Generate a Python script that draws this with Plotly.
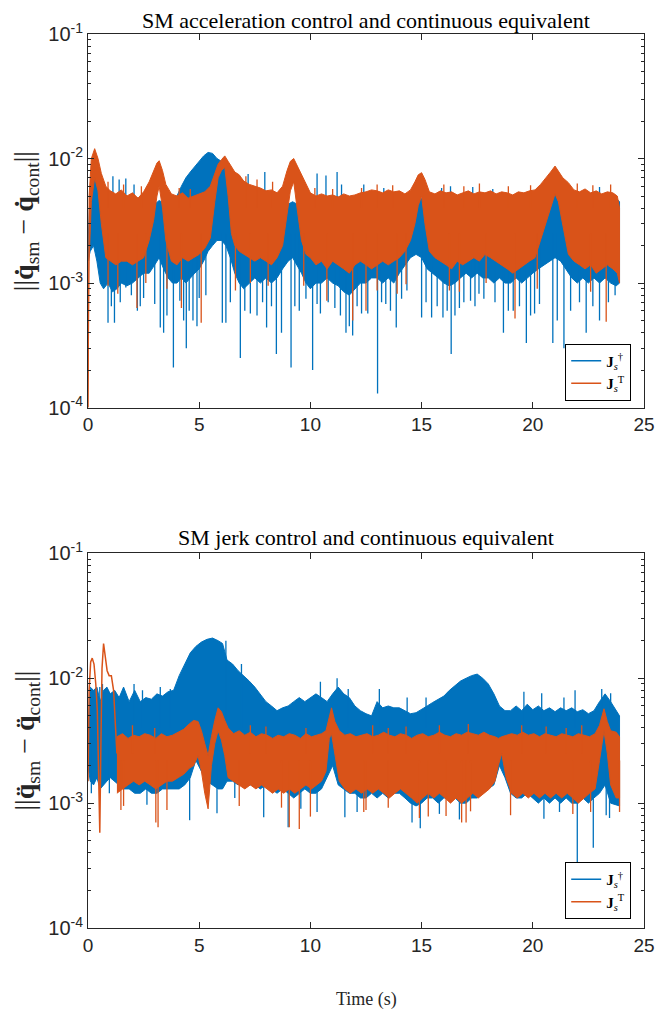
import plotly.graph_objects as go

BLUE = "#0072BD"
ORANGE = "#D95319"

# ---------------- top panel: SM acceleration control ----------------
# J_s^dagger (blue) dense band envelope
b1_t = [
 0.00, 0.10, 0.25, 0.40, 0.55, 0.70, 0.90, 1.10, 1.30, 1.50,
 1.75, 2.00, 2.25, 2.50, 2.75, 3.00, 3.20, 3.40, 3.60, 3.80,
 4.00, 4.20, 4.40, 4.60, 4.80, 5.00, 5.20, 5.40, 5.60, 5.80,
 6.00, 6.20, 6.40, 6.60, 6.80, 7.00, 7.25, 7.50, 7.75, 8.00,
 8.25, 8.50, 8.75, 9.00, 9.20, 9.40, 9.60, 9.80, 10.00, 10.25,
 10.50, 10.75, 11.00, 11.25, 11.50, 11.75, 12.00, 12.25, 12.50, 12.75,
 13.00, 13.25, 13.50, 13.75, 14.00, 14.25, 14.50, 14.75, 15.00, 15.25,
 15.50, 15.75, 16.00, 16.25, 16.50, 16.75, 17.00, 17.25, 17.50, 17.75,
 18.00, 18.25, 18.50, 18.75, 19.00, 19.25, 19.50, 19.75, 20.00, 20.25,
 20.50, 20.75, 21.00, 21.25, 21.50, 21.75, 22.00, 22.25, 22.50, 22.75,
 23.00, 23.25, 23.50, 23.75, 23.90]
b1_hi = [
 2.0e-3, 6.0e-3, 7.5e-3, 6.5e-3, 5.5e-3, 5.0e-3, 5.2e-3, 5.0e-3, 4.8e-3, 5.0e-3,
 4.8e-3, 5.0e-3, 4.8e-3, 5.0e-3, 4.5e-3, 4.3e-3, 4.6e-3, 4.4e-3, 4.6e-3, 4.8e-3,
 5.0e-3, 6.0e-3, 7.0e-3, 7.8e-3, 8.6e-3, 9.5e-3, 1.05e-2, 1.12e-2, 1.1e-2, 1.0e-2,
 9.5e-3, 8.5e-3, 7.5e-3, 6.0e-3, 5.2e-3, 5.0e-3, 4.9e-3, 5.0e-3, 4.8e-3, 5.0e-3,
 4.8e-3, 4.7e-3, 4.5e-3, 4.3e-3, 4.5e-3, 4.3e-3, 4.6e-3, 4.8e-3, 5.0e-3, 4.9e-3,
 5.0e-3, 4.8e-3, 5.0e-3, 4.9e-3, 5.0e-3, 4.8e-3, 4.9e-3, 5.0e-3, 5.0e-3, 5.1e-3,
 5.0e-3, 5.2e-3, 5.0e-3, 5.1e-3, 4.9e-3, 4.7e-3, 4.5e-3, 4.6e-3, 4.8e-3, 4.5e-3,
 4.8e-3, 5.0e-3, 4.9e-3, 5.0e-3, 4.8e-3, 5.0e-3, 4.9e-3, 5.0e-3, 4.8e-3, 5.0e-3,
 4.9e-3, 5.0e-3, 4.8e-3, 4.9e-3, 4.7e-3, 4.8e-3, 4.9e-3, 4.8e-3, 4.7e-3, 4.6e-3,
 4.2e-3, 4.6e-3, 5.4e-3, 4.8e-3, 4.4e-3, 4.8e-3, 5.0e-3, 4.9e-3, 5.0e-3, 4.8e-3,
 5.0e-3, 4.9e-3, 5.0e-3, 4.8e-3, 4.5e-3]
b1_lo = [
 1.5e-3, 1.8e-3, 2.0e-3, 1.5e-3, 1.0e-3, 9.0e-4, 1.0e-3, 8.5e-4, 9.0e-4, 1.0e-3,
 9.5e-4, 1.0e-3, 1.1e-3, 1.2e-3, 1.2e-3, 1.4e-3, 1.6e-3, 1.3e-3, 1.1e-3, 1.0e-3,
 1.0e-3, 1.1e-3, 1.0e-3, 1.1e-3, 1.2e-3, 1.3e-3, 1.5e-3, 1.8e-3, 2.0e-3, 2.2e-3,
 2.2e-3, 2.0e-3, 1.6e-3, 1.2e-3, 1.0e-3, 9.0e-4, 1.0e-3, 1.1e-3, 1.0e-3, 1.1e-3,
 1.0e-3, 1.1e-3, 1.3e-3, 1.5e-3, 1.6e-3, 1.4e-3, 1.2e-3, 1.0e-3, 9.0e-4, 1.0e-3,
 1.0e-3, 1.1e-3, 1.0e-3, 9.5e-4, 8.5e-4, 8.0e-4, 9.0e-4, 1.0e-3, 1.0e-3, 1.1e-3,
 1.1e-3, 1.0e-3, 1.1e-3, 1.0e-3, 1.2e-3, 1.4e-3, 1.6e-3, 1.7e-3, 1.6e-3, 1.3e-3,
 1.2e-3, 1.1e-3, 1.0e-3, 9.5e-4, 1.0e-3, 1.1e-3, 1.2e-3, 1.1e-3, 1.2e-3, 1.1e-3,
 1.1e-3, 1.0e-3, 1.1e-3, 1.0e-3, 1.0e-3, 1.1e-3, 1.0e-3, 1.1e-3, 1.2e-3, 1.3e-3,
 1.4e-3, 1.5e-3, 1.6e-3, 1.5e-3, 1.3e-3, 1.1e-3, 1.0e-3, 1.1e-3, 1.0e-3, 1.1e-3,
 1.0e-3, 1.1e-3, 1.0e-3, 9.5e-4, 1.0e-3]
# blue isolated spikes (downward and upward tips)
b1_dn_t = [0.90, 1.19, 1.70, 2.22, 2.50, 3.00, 3.25, 3.40, 3.84, 4.13,
           4.42, 4.72, 5.00, 6.04, 6.20, 6.85, 7.30, 8.03, 8.47, 8.70,
           9.13, 9.50, 10.10, 10.45, 11.10, 11.60, 11.90, 12.30, 12.58, 13.02,
           13.39, 13.86, 14.34, 15.00, 15.45, 15.96, 16.33, 16.70, 17.20, 17.58,
           18.68, 19.12, 19.71, 20.08, 20.90, 21.40, 22.40, 23.70,
           1.05, 1.45, 1.95, 2.35, 3.55, 4.30, 4.55, 4.90, 5.30, 6.40,
           7.05, 7.60, 7.85, 8.25, 9.30, 9.80, 10.30, 10.80, 11.35, 11.75,
           12.10, 13.20, 13.60, 14.10, 15.20, 15.70, 16.15, 16.50, 16.90, 17.40,
           17.80, 18.30, 18.90, 19.40, 19.90, 20.30, 21.10, 21.70, 22.10, 22.70,
           23.00, 23.40]
b1_dn_v = [4.8e-4, 4.8e-4, 9.2e-4, 6.0e-4, 7.6e-4, 6.8e-4, 4.4e-4, 4.0e-4, 2.1e-4, 7.2e-4,
           3.0e-4, 5.0e-4, 7.6e-4, 4.8e-4, 4.8e-4, 2.5e-4, 5.7e-4, 4.4e-4, 2.7e-4, 4.0e-4,
           2.1e-4, 6.0e-4, 2.0e-4, 5.7e-4, 6.3e-4, 4.0e-4, 3.8e-4, 5.7e-4, 5.7e-4, 1.3e-4,
           6.8e-4, 4.4e-4, 8.7e-4, 5.3e-4, 5.3e-4, 5.3e-4, 2.7e-4, 6.3e-4, 7.2e-4, 8.2e-4,
           4.0e-4, 6.0e-4, 3.3e-4, 5.7e-4, 3.3e-4, 3.0e-4, 4.0e-4, 8.0e-4,
           6.5e-4, 7.0e-4, 8.0e-4, 6.5e-4, 5.5e-4, 5.0e-4, 6.0e-4, 4.5e-4, 8.0e-4, 7.0e-4,
           6.0e-4, 5.5e-4, 7.0e-4, 6.5e-4, 6.5e-4, 7.5e-4, 6.8e-4, 7.0e-4, 5.5e-4, 4.5e-4,
           6.5e-4, 7.0e-4, 6.0e-4, 7.5e-4, 7.0e-4, 6.5e-4, 6.0e-4, 5.5e-4, 7.0e-4, 6.5e-4,
           7.5e-4, 7.0e-4, 6.0e-4, 6.5e-4, 5.5e-4, 6.8e-4, 5.0e-4, 6.0e-4, 7.0e-4, 6.5e-4,
           5.0e-4, 7.0e-4]
b1_up_t = [0.60, 1.12, 1.40, 1.70, 2.07, 4.28, 6.60, 7.20, 7.95, 10.30,
           10.70, 11.20, 11.40, 12.40, 13.30, 15.90, 16.30, 17.30, 18.20, 23.00]
b1_up_v = [7.5e-3, 7.2e-3, 6.8e-3, 6.9e-3, 6.2e-3, 6.2e-3, 6.0e-3, 7.5e-3, 7.8e-3, 7.6e-3,
           7.3e-3, 7.8e-3, 6.2e-3, 6.2e-3, 5.8e-3, 5.8e-3, 6.0e-3, 5.9e-3, 5.7e-3, 5.9e-3]

# J_s^T (orange) dense band envelope
o1_t = [
 0.00, 0.05, 0.15, 0.30, 0.45, 0.60, 0.80, 1.00, 1.25, 1.50,
 1.75, 2.00, 2.25, 2.50, 2.75, 2.95, 3.10, 3.20, 3.35, 3.50,
 3.75, 4.00, 4.25, 4.50, 4.75, 5.00, 5.25, 5.50, 5.70, 5.85,
 6.00, 6.15, 6.30, 6.45, 6.60, 6.80, 7.00, 7.25, 7.50, 7.75,
 8.00, 8.25, 8.50, 8.75, 8.95, 9.10, 9.25, 9.40, 9.60, 9.80,
 10.00, 10.25, 10.50, 10.75, 11.00, 11.25, 11.50, 11.75, 12.00, 12.25,
 12.50, 12.75, 13.00, 13.25, 13.50, 13.75, 14.00, 14.25, 14.50, 14.70,
 14.85, 15.00, 15.15, 15.35, 15.60, 15.85, 16.10, 16.35, 16.60, 16.85,
 17.10, 17.35, 17.60, 17.85, 18.10, 18.35, 18.60, 18.85, 19.10, 19.35,
 19.60, 19.85, 20.10, 20.35, 20.60, 20.80, 21.00, 21.15, 21.35, 21.60,
 21.85, 22.10, 22.35, 22.60, 22.85, 23.10, 23.35, 23.60, 23.80, 23.90]
o1_hi = [
 1.0e-4, 5.0e-3, 1.0e-2, 1.2e-2, 1.0e-2, 7.6e-3, 6.0e-3, 5.5e-3, 5.2e-3, 5.6e-3,
 5.0e-3, 5.3e-3, 4.8e-3, 5.4e-3, 6.5e-3, 8.0e-3, 9.2e-3, 9.6e-3, 8.0e-3, 6.2e-3,
 5.2e-3, 5.0e-3, 5.3e-3, 4.8e-3, 5.0e-3, 5.2e-3, 5.4e-3, 6.0e-3, 7.5e-3, 9.0e-3,
 9.8e-3, 1.05e-2, 9.5e-3, 8.5e-3, 7.8e-3, 7.4e-3, 6.6e-3, 6.2e-3, 6.0e-3, 5.8e-3,
 5.5e-3, 5.6e-3, 5.3e-3, 6.0e-3, 8.0e-3, 9.5e-3, 1.0e-2, 8.8e-3, 7.5e-3, 6.2e-3,
 5.3e-3, 5.0e-3, 5.2e-3, 5.0e-3, 5.1e-3, 4.9e-3, 5.2e-3, 5.0e-3, 5.1e-3, 5.3e-3,
 5.4e-3, 5.6e-3, 5.5e-3, 5.3e-3, 5.6e-3, 5.4e-3, 5.5e-3, 5.2e-3, 5.6e-3, 6.5e-3,
 7.4e-3, 7.7e-3, 6.8e-3, 5.4e-3, 5.2e-3, 5.5e-3, 5.3e-3, 5.4e-3, 5.1e-3, 5.3e-3,
 5.5e-3, 5.2e-3, 5.4e-3, 5.3e-3, 5.5e-3, 5.2e-3, 5.4e-3, 5.3e-3, 5.1e-3, 5.4e-3,
 5.3e-3, 5.5e-3, 5.6e-3, 6.2e-3, 7.0e-3, 7.8e-3, 8.7e-3, 8.0e-3, 7.0e-3, 6.4e-3,
 5.6e-3, 5.4e-3, 5.7e-3, 5.3e-3, 5.5e-3, 5.2e-3, 5.4e-3, 5.3e-3, 5.0e-3, 4.0e-3]
o1_lo = [
 1.0e-4, 1.5e-3, 4.5e-3, 7.0e-3, 5.5e-3, 3.0e-3, 1.6e-3, 1.5e-3, 1.4e-3, 1.5e-3,
 1.5e-3, 1.4e-3, 1.5e-3, 1.6e-3, 2.2e-3, 3.2e-3, 5.0e-3, 6.0e-3, 4.0e-3, 2.2e-3,
 1.5e-3, 1.4e-3, 1.6e-3, 1.5e-3, 1.6e-3, 1.7e-3, 1.9e-3, 2.3e-3, 4.5e-3, 7.0e-3,
 8.0e-3, 8.5e-3, 5.0e-3, 2.5e-3, 2.0e-3, 1.8e-3, 1.7e-3, 1.6e-3, 1.5e-3, 1.6e-3,
 1.5e-3, 1.4e-3, 1.6e-3, 2.0e-3, 3.5e-3, 5.5e-3, 6.5e-3, 4.0e-3, 2.2e-3, 1.7e-3,
 1.6e-3, 1.4e-3, 1.5e-3, 1.3e-3, 1.5e-3, 1.4e-3, 1.3e-3, 1.2e-3, 1.4e-3, 1.5e-3,
 1.4e-3, 1.3e-3, 1.4e-3, 1.5e-3, 1.4e-3, 1.5e-3, 1.6e-3, 1.8e-3, 2.2e-3, 3.0e-3,
 4.2e-3, 5.0e-3, 3.0e-3, 1.8e-3, 1.6e-3, 1.5e-3, 1.4e-3, 1.3e-3, 1.5e-3, 1.4e-3,
 1.5e-3, 1.6e-3, 1.5e-3, 1.7e-3, 1.6e-3, 1.5e-3, 1.4e-3, 1.3e-3, 1.2e-3, 1.3e-3,
 1.4e-3, 1.5e-3, 1.6e-3, 2.2e-3, 3.0e-3, 4.0e-3, 5.2e-3, 4.5e-3, 3.0e-3, 1.7e-3,
 1.5e-3, 1.4e-3, 1.3e-3, 1.4e-3, 1.2e-3, 1.3e-3, 1.4e-3, 1.3e-3, 1.2e-3, 1.0e-3]
o1_dn_t = [0.90, 1.34, 2.20, 2.60, 3.55, 4.20, 5.09, 6.63, 7.30, 8.10,
           9.70, 10.74, 11.90, 12.50, 13.00, 13.90, 14.30, 16.25, 16.70, 17.90,
           19.20, 20.20, 22.60, 23.30]
o1_dn_v = [9.5e-4, 8.2e-4, 6.3e-4, 1.0e-3, 9.0e-4, 6.3e-4, 4.8e-4, 8.7e-4, 1.0e-3, 9.5e-4,
           9.5e-4, 7.2e-4, 5.0e-4, 6.0e-4, 8.7e-4, 8.2e-4, 9.8e-4, 8.7e-4, 8.5e-4, 1.0e-3,
           5.2e-4, 9.0e-4, 8.5e-4, 4.9e-4]
o1_up_t = [0.90, 1.60, 2.40, 4.10, 4.60, 7.10, 7.60, 8.30, 10.20, 11.00,
           12.30, 13.00, 13.70, 16.00, 16.90, 17.60, 18.90, 19.90, 22.00, 22.70, 23.50]
o1_up_v = [6.5e-3, 6.2e-3, 6.0e-3, 5.8e-3, 5.7e-3, 7.2e-3, 6.8e-3, 6.5e-3, 5.8e-3, 5.7e-3,
           5.8e-3, 6.2e-3, 6.1e-3, 6.2e-3, 6.0e-3, 6.3e-3, 6.0e-3, 6.1e-3, 6.3e-3, 6.1e-3, 6.2e-3]

# ---------------- bottom panel: SM jerk control ----------------
b2_t = [
 0.00, 0.10, 0.25, 0.40, 0.55, 0.70, 0.85, 1.00, 1.20, 1.40,
 1.60, 1.85, 2.10, 2.35, 2.60, 2.85, 3.10, 3.35, 3.60, 3.85,
 4.10, 4.35, 4.60, 4.85, 5.10, 5.35, 5.60, 5.85, 6.05, 6.25,
 6.50, 6.75, 7.00, 7.25, 7.50, 7.75, 8.00, 8.25, 8.50, 8.75,
 9.00, 9.25, 9.50, 9.75, 10.00, 10.25, 10.50, 10.75, 11.00, 11.25,
 11.50, 11.75, 12.00, 12.25, 12.50, 12.75, 13.00, 13.25, 13.50, 13.75,
 14.00, 14.25, 14.50, 14.75, 15.00, 15.25, 15.50, 15.75, 16.00, 16.25,
 16.50, 16.75, 17.00, 17.25, 17.50, 17.75, 18.00, 18.25, 18.50, 18.75,
 19.00, 19.25, 19.50, 19.75, 20.00, 20.25, 20.50, 20.75, 21.00, 21.25,
 21.50, 21.75, 22.00, 22.25, 22.50, 22.75, 23.00, 23.25, 23.50, 23.90]
b2_hi = [
 3.0e-3, 8.5e-3, 8.0e-3, 8.5e-3, 6.5e-3, 8.0e-3, 8.5e-3, 7.5e-3, 8.0e-3, 7.0e-3,
 8.5e-3, 6.5e-3, 8.0e-3, 6.5e-3, 7.0e-3, 6.8e-3, 7.5e-3, 7.2e-3, 7.8e-3, 8.0e-3,
 1.05e-2, 1.3e-2, 1.6e-2, 1.8e-2, 1.95e-2, 2.05e-2, 2.1e-2, 2.0e-2, 1.9e-2, 1.4e-2,
 1.3e-2, 1.15e-2, 1.05e-2, 9.5e-3, 8.5e-3, 7.5e-3, 6.5e-3, 6.0e-3, 5.5e-3, 5.8e-3,
 6.0e-3, 6.5e-3, 7.0e-3, 6.5e-3, 7.0e-3, 7.5e-3, 7.0e-3, 6.5e-3, 7.5e-3, 8.5e-3,
 7.5e-3, 7.0e-3, 6.0e-3, 5.5e-3, 5.2e-3, 5.0e-3, 6.5e-3, 5.8e-3, 6.0e-3, 5.8e-3,
 5.8e-3, 5.5e-3, 5.2e-3, 5.3e-3, 5.6e-3, 6.0e-3, 6.4e-3, 6.8e-3, 7.2e-3, 8.0e-3,
 8.8e-3, 9.5e-3, 1.0e-2, 1.05e-2, 1.08e-2, 1.0e-2, 9.0e-3, 7.5e-3, 6.0e-3, 5.5e-3,
 5.5e-3, 6.0e-3, 5.5e-3, 6.2e-3, 5.6e-3, 6.0e-3, 5.5e-3, 5.8e-3, 5.4e-3, 5.8e-3,
 5.5e-3, 5.8e-3, 5.4e-3, 5.6e-3, 5.2e-3, 5.5e-3, 6.5e-3, 7.5e-3, 6.5e-3, 5.0e-3]
b2_lo = [
 2.0e-3, 1.5e-3, 1.4e-3, 1.6e-3, 1.3e-3, 1.4e-3, 1.5e-3, 1.6e-3, 1.5e-3, 1.4e-3,
 1.3e-3, 1.3e-3, 1.2e-3, 1.2e-3, 1.3e-3, 1.2e-3, 1.2e-3, 1.3e-3, 1.3e-3, 1.3e-3,
 1.3e-3, 1.4e-3, 1.6e-3, 2.2e-3, 1.8e-3, 1.5e-3, 1.4e-3, 1.3e-3, 1.3e-3, 1.5e-3,
 1.5e-3, 1.4e-3, 1.5e-3, 1.4e-3, 1.4e-3, 1.3e-3, 1.4e-3, 1.3e-3, 1.2e-3, 1.3e-3,
 1.2e-3, 1.1e-3, 1.2e-3, 1.3e-3, 1.2e-3, 1.2e-3, 1.3e-3, 1.6e-3, 2.0e-3, 1.4e-3,
 1.3e-3, 1.2e-3, 1.2e-3, 1.1e-3, 1.1e-3, 1.2e-3, 1.1e-3, 1.2e-3, 1.1e-3, 1.2e-3,
 1.2e-3, 1.1e-3, 1.0e-3, 9.5e-4, 1.0e-3, 1.1e-3, 1.1e-3, 1.0e-3, 1.1e-3, 1.1e-3,
 1.1e-3, 1.0e-3, 1.0e-3, 1.1e-3, 1.1e-3, 1.2e-3, 1.3e-3, 1.4e-3, 2.0e-3, 1.6e-3,
 1.2e-3, 1.1e-3, 1.1e-3, 1.2e-3, 1.1e-3, 1.0e-3, 1.1e-3, 1.0e-3, 1.1e-3, 1.0e-3,
 1.1e-3, 1.0e-3, 1.0e-3, 1.1e-3, 1.0e-3, 1.1e-3, 1.2e-3, 1.4e-3, 1.0e-3, 9.5e-4]
b2_dn_t = [0.15, 0.96, 2.65, 4.57, 5.80, 6.60, 7.90, 9.00, 9.57, 10.30,
           11.55, 12.10, 14.57, 14.94, 15.80, 16.70, 20.50, 21.20, 22.00, 22.72,
           23.30, 23.45]
b2_dn_v = [1.2e-3, 1.2e-3, 9.7e-4, 7.3e-4, 8.3e-4, 1.1e-3, 7.7e-4, 6.4e-4, 9.0e-4, 8.5e-4,
           7.7e-4, 8.5e-4, 7.0e-4, 6.3e-4, 8.2e-4, 7.4e-4, 7.5e-4, 8.5e-4, 3.0e-4, 4.4e-4,
           8.0e-4, 7.6e-4]
b2_up_t = [0.53, 0.65, 2.07, 2.45, 3.25, 3.70, 6.20, 6.90, 10.45, 11.20,
           11.70, 13.10, 14.35, 15.20, 19.60, 20.40, 21.40, 21.90, 23.10, 23.50]
b2_up_v = [8.5e-3, 9.0e-3, 9.0e-3, 8.0e-3, 8.5e-3, 8.2e-3, 2.0e-2, 1.3e-2, 9.4e-3, 1.0e-2,
           8.2e-3, 8.2e-3, 7.0e-3, 7.0e-3, 7.8e-3, 7.6e-3, 7.0e-3, 8.0e-3, 8.2e-3, 7.6e-3]

# orange: initial transient (thin curve) then dense band
o2_init_t = [0.00, 0.05, 0.12, 0.19, 0.27, 0.35, 0.42, 0.47, 0.53, 0.58,
             0.63, 0.70, 0.78, 0.86, 0.95, 1.05, 1.15, 1.22, 1.30]
o2_init_v = [1.5e-3, 8.0e-3, 1.35e-2, 1.45e-2, 1.3e-2, 9.0e-3, 5.5e-3, 2.5e-3, 5.8e-4, 3.0e-3,
             1.2e-2, 1.9e-2, 1.5e-2, 1.15e-2, 1.05e-2, 1.05e-2, 8.0e-3, 4.0e-3, 2.5e-3]
o2_t = [
 1.30, 1.55, 1.80, 2.05, 2.30, 2.55, 2.80, 3.05, 3.30, 3.55,
 3.80, 4.05, 4.30, 4.55, 4.75, 4.95, 5.10, 5.25, 5.40, 5.55,
 5.70, 5.85, 6.00, 6.15, 6.30, 6.55, 6.80, 7.05, 7.30, 7.55,
 7.80, 8.05, 8.30, 8.55, 8.80, 9.05, 9.30, 9.55, 9.80, 10.05,
 10.30, 10.50, 10.70, 10.85, 10.95, 11.10, 11.30, 11.55, 11.80, 12.05,
 12.30, 12.55, 12.80, 13.05, 13.30, 13.55, 13.80, 14.05, 14.30, 14.55,
 14.80, 15.05, 15.30, 15.55, 15.80, 16.05, 16.30, 16.55, 16.80, 17.05,
 17.30, 17.55, 17.80, 18.05, 18.30, 18.45, 18.60, 18.80, 19.05, 19.30,
 19.55, 19.80, 20.05, 20.30, 20.55, 20.80, 21.05, 21.30, 21.55, 21.80,
 22.05, 22.30, 22.55, 22.80, 23.00, 23.20, 23.35, 23.50, 23.75, 23.90]
o2_hi = [
 3.4e-3, 3.6e-3, 3.3e-3, 3.5e-3, 3.4e-3, 3.6e-3, 3.5e-3, 3.3e-3, 3.6e-3, 3.4e-3,
 3.5e-3, 3.7e-3, 3.9e-3, 4.3e-3, 4.6e-3, 4.5e-3, 3.8e-3, 3.0e-3, 2.4e-3, 3.4e-3,
 4.6e-3, 5.8e-3, 5.4e-3, 4.6e-3, 4.0e-3, 3.6e-3, 3.8e-3, 3.5e-3, 3.7e-3, 3.4e-3,
 3.6e-3, 3.5e-3, 3.3e-3, 3.5e-3, 3.4e-3, 3.6e-3, 3.5e-3, 3.3e-3, 3.6e-3, 3.4e-3,
 3.5e-3, 3.6e-3, 3.8e-3, 5.0e-3, 5.8e-3, 4.5e-3, 3.8e-3, 3.5e-3, 3.6e-3, 3.4e-3,
 3.5e-3, 3.6e-3, 3.4e-3, 3.5e-3, 3.7e-3, 3.5e-3, 3.4e-3, 3.6e-3, 3.5e-3, 3.3e-3,
 3.5e-3, 3.6e-3, 3.4e-3, 3.5e-3, 3.7e-3, 3.5e-3, 3.4e-3, 3.6e-3, 3.5e-3, 3.7e-3,
 3.6e-3, 3.5e-3, 3.7e-3, 3.5e-3, 3.4e-3, 3.3e-3, 3.4e-3, 3.5e-3, 3.6e-3, 3.5e-3,
 3.7e-3, 3.5e-3, 3.6e-3, 3.4e-3, 3.6e-3, 3.5e-3, 3.4e-3, 3.6e-3, 3.5e-3, 3.4e-3,
 3.6e-3, 3.5e-3, 3.4e-3, 3.6e-3, 4.2e-3, 5.7e-3, 4.5e-3, 3.8e-3, 3.7e-3, 3.4e-3]
o2_lo = [
 1.2e-3, 1.3e-3, 1.4e-3, 1.5e-3, 1.4e-3, 1.5e-3, 1.4e-3, 1.3e-3, 1.4e-3, 1.5e-3,
 1.5e-3, 1.6e-3, 1.7e-3, 1.9e-3, 2.0e-3, 2.4e-3, 1.8e-3, 1.2e-3, 9.0e-4, 2.0e-3,
 3.0e-3, 3.8e-3, 3.2e-3, 2.4e-3, 1.6e-3, 1.5e-3, 1.4e-3, 1.3e-3, 1.4e-3, 1.3e-3,
 1.4e-3, 1.3e-3, 1.2e-3, 1.3e-3, 1.2e-3, 1.3e-3, 1.2e-3, 1.3e-3, 1.4e-3, 1.3e-3,
 1.4e-3, 1.5e-3, 1.8e-3, 3.3e-3, 3.6e-3, 2.4e-3, 1.5e-3, 1.3e-3, 1.2e-3, 1.3e-3,
 1.2e-3, 1.3e-3, 1.2e-3, 1.3e-3, 1.2e-3, 1.1e-3, 1.2e-3, 1.3e-3, 1.2e-3, 1.1e-3,
 1.0e-3, 1.1e-3, 1.2e-3, 1.1e-3, 1.2e-3, 1.1e-3, 1.0e-3, 1.1e-3, 1.0e-3, 1.1e-3,
 1.2e-3, 1.1e-3, 1.2e-3, 1.3e-3, 1.5e-3, 2.0e-3, 2.5e-3, 1.6e-3, 1.2e-3, 1.1e-3,
 1.2e-3, 1.1e-3, 1.2e-3, 1.1e-3, 1.2e-3, 1.1e-3, 1.2e-3, 1.1e-3, 1.2e-3, 1.1e-3,
 1.0e-3, 1.1e-3, 1.2e-3, 1.3e-3, 2.2e-3, 3.8e-3, 2.5e-3, 1.4e-3, 1.1e-3, 1.1e-3]
o2_dn_t = [1.48, 1.60, 3.05, 3.15, 3.55, 6.80, 8.70, 9.05, 9.50, 10.00,
           12.40, 12.50, 13.50, 14.90, 15.30, 16.10, 16.80, 17.00, 17.20, 19.00,
           21.80, 22.60, 23.90]
o2_dn_v = [8.8e-4, 9.5e-4, 7.0e-4, 6.4e-4, 8.8e-4, 9.5e-4, 9.2e-4, 6.4e-4, 6.2e-4, 7.8e-4,
           8.5e-4, 8.8e-4, 9.2e-4, 7.6e-4, 7.8e-4, 7.9e-4, 7.0e-4, 7.0e-4, 8.6e-4, 8.0e-4,
           8.2e-4, 8.5e-4, 8.5e-4]
o2_up_t = [2.00, 3.00, 7.30, 8.00, 9.80, 12.80, 13.50, 14.30, 15.80, 17.10,
           19.50, 20.60, 21.50, 22.20]
o2_up_v = [4.2e-3, 4.0e-3, 4.2e-3, 4.1e-3, 4.0e-3, 4.2e-3, 4.0e-3, 4.1e-3, 4.2e-3, 4.3e-3,
           4.2e-3, 4.1e-3, 4.0e-3, 4.2e-3]

x_ticks = [0, 5, 10, 15, 20, 25]
y_ticks = [1e-4, 1e-3, 1e-2, 1e-1]
y_tick_text = ["10<sup>-4</sup>", "10<sup>-3</sup>", "10<sup>-2</sup>", "10<sup>-1</sup>"]
legend_names = ["<b>J</b><sub><i>s</i></sub><sup>†</sup>", "<b>J</b><sub><i>s</i></sub><sup>T</sup>"]

for a, b in [(b1_t, b1_hi), (b1_t, b1_lo), (o1_t, o1_hi), (o1_t, o1_lo), (b2_t, b2_hi), (b2_t, b2_lo),
             (o2_t, o2_hi), (o2_t, o2_lo), (b1_dn_t, b1_dn_v), (b1_up_t, b1_up_v), (o1_dn_t, o1_dn_v),
             (o1_up_t, o1_up_v), (b2_dn_t, b2_dn_v), (b2_up_t, b2_up_v), (o2_dn_t, o2_dn_v),
             (o2_up_t, o2_up_v), (o2_init_t, o2_init_v)]:
    assert len(a) == len(b), (len(a), len(b))

fig = go.Figure()


def band(t, hi, lo, color, xa, ya):
    fig.add_trace(go.Scatter(
        x=list(t) + list(t)[::-1], y=list(hi) + list(lo)[::-1],
        mode="lines", fill="toself", fillcolor=color,
        line=dict(color=color, width=1), showlegend=False, hoverinfo="skip",
        xaxis=xa, yaxis=ya))


def spikes(t, v, base, color, xa, ya):
    xs, ys = [], []
    for ti, vi in zip(t, v):
        xs += [ti, ti, None]
        ys += [base, vi, None]
    fig.add_trace(go.Scatter(x=xs, y=ys, mode="lines", line=dict(color=color, width=1.3),
                             showlegend=False, hoverinfo="skip", xaxis=xa, yaxis=ya))


def legend_entry(name, color, xa, ya, leg):
    fig.add_trace(go.Scatter(x=[None], y=[None], mode="lines", name=name,
                             line=dict(color=color, width=1.5), xaxis=xa, yaxis=ya, legend=leg))


# top panel: blue first, orange on top
band(b1_t, b1_hi, b1_lo, BLUE, "x", "y")
spikes(b1_dn_t, b1_dn_v, 2.5e-3, BLUE, "x", "y")
spikes(b1_up_t, b1_up_v, 4.0e-3, BLUE, "x", "y")
band(o1_t, o1_hi, o1_lo, ORANGE, "x", "y")
spikes(o1_dn_t, o1_dn_v, 2.5e-3, ORANGE, "x", "y")
spikes(o1_up_t, o1_up_v, 4.0e-3, ORANGE, "x", "y")
legend_entry(legend_names[0], BLUE, "x", "y", "legend")
legend_entry(legend_names[1], ORANGE, "x", "y", "legend")

# bottom panel
band(b2_t, b2_hi, b2_lo, BLUE, "x2", "y2")
spikes(b2_dn_t, b2_dn_v, 3.0e-3, BLUE, "x2", "y2")
spikes(b2_up_t, b2_up_v, 4.0e-3, BLUE, "x2", "y2")
fig.add_trace(go.Scatter(x=o2_init_t, y=o2_init_v, mode="lines", line=dict(color=ORANGE, width=1.5),
                         showlegend=False, hoverinfo="skip", xaxis="x2", yaxis="y2"))
band(o2_t, o2_hi, o2_lo, ORANGE, "x2", "y2")
spikes(o2_dn_t, o2_dn_v, 2.2e-3, ORANGE, "x2", "y2")
spikes(o2_up_t, o2_up_v, 2.5e-3, ORANGE, "x2", "y2")
legend_entry(legend_names[0], BLUE, "x2", "y2", "legend2")
legend_entry(legend_names[1], ORANGE, "x2", "y2", "legend2")

AX = "#262626"
minor_vals = [k * 10.0 ** e for e in (-4, -3, -2) for k in range(2, 10)]
xcommon = dict(range=[0, 25], tickvals=x_ticks, showline=True, linecolor=AX, linewidth=1,
               mirror="ticks", ticks="inside", ticklen=6, tickcolor=AX, showgrid=False,
               zeroline=False, tickfont=dict(family="Liberation Sans, Arial", size=19, color=AX))
ycommon = dict(type="log", range=[-4, -1], tickvals=y_ticks, ticktext=y_tick_text,
               showline=True, linecolor=AX, linewidth=1, mirror="ticks", ticks="inside",
               ticklen=6, tickcolor=AX, showgrid=False, zeroline=False,
               tickfont=dict(family="Liberation Sans, Arial", size=20, color=AX),
               minor=dict(tickvals=minor_vals, ticks="inside", ticklen=3, tickcolor=AX, showgrid=False))

# figure is drawn inside the page body (8 px default margin), so size and margins account for that
FIG_W, FIG_H = 659, 1005
top_dom = [0.5821, 1.0]
bot_dom = [0.0, 0.419]
legend_common = dict(bgcolor="white", bordercolor="black", borderwidth=1,
                     font=dict(family="Liberation Serif, DejaVu Serif", size=15, color="black"),
                     xanchor="right", yanchor="bottom", itemwidth=30, tracegroupgap=0)

serif = "Liberation Serif, DejaVu Serif, serif"
fig.update_layout(
    width=FIG_W, height=FIG_H,
    margin=dict(l=80, r=12, t=25, b=85),
    paper_bgcolor="white", plot_bgcolor="white",
    xaxis=dict(domain=[0, 1], anchor="y", **xcommon),
    yaxis=dict(domain=top_dom, anchor="x", **ycommon),
    xaxis2=dict(domain=[0, 1], anchor="y2", **xcommon),
    yaxis2=dict(domain=bot_dom, anchor="x2", **ycommon),
    legend=dict(x=0.977, y=0.590, **legend_common),
    legend2=dict(x=0.977, y=0.010, **legend_common),
    annotations=[
        dict(text="SM acceleration control and continuous equivalent", xref="paper", yref="paper",
             x=0.5, y=1.0155, xanchor="center", yanchor="middle", showarrow=False,
             font=dict(family=serif, size=22, color="black")),
        dict(text="SM jerk control and continuous equivalent", xref="paper", yref="paper",
             x=0.5, y=0.4369, xanchor="center", yanchor="middle", showarrow=False,
             font=dict(family=serif, size=22, color="black")),
        dict(text="Time (s)", xref="paper", yref="paper", x=0.5, y=-0.0804,
             xanchor="center", yanchor="middle", showarrow=False,
             font=dict(family=serif, size=18, color=AX)),
        dict(text="||<b>q̇</b><sub>sm</sub> − <b>q̇</b><sub>cont</sub>||", xref="paper", yref="paper",
             x=-0.111, y=0.791, xanchor="center", yanchor="middle", textangle=-90, showarrow=False,
             font=dict(family=serif, size=28, color=AX)),
        dict(text="||<b>q̈</b><sub>sm</sub> − <b>q̈</b><sub>cont</sub>||", xref="paper", yref="paper",
             x=-0.111, y=0.21, xanchor="center", yanchor="middle", textangle=-90, showarrow=False,
             font=dict(family=serif, size=28, color=AX)),
    ],
)

fig.write_html("out.html")
